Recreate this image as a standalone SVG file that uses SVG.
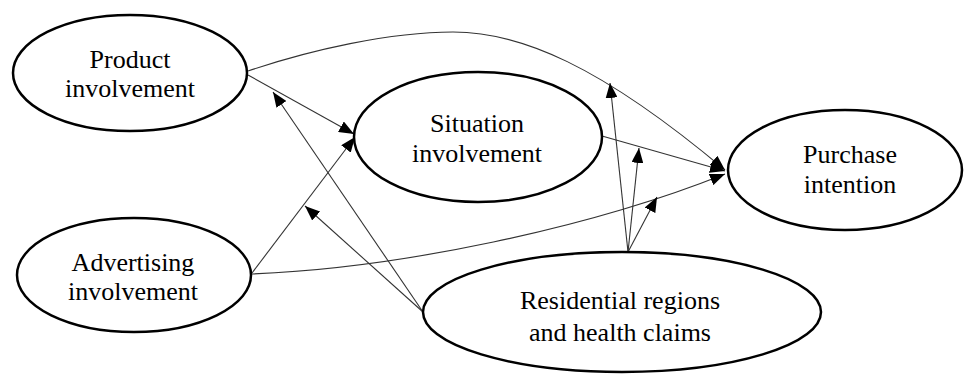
<svg xmlns="http://www.w3.org/2000/svg" width="964" height="374" viewBox="0 0 964 374">
<style>
.node ellipse{fill:#fff;stroke:#000;stroke-width:2.5}
.node text{font-family:"Liberation Serif","Times New Roman",serif;font-size:26px;fill:#000;text-anchor:middle}
.edge{fill:none;stroke:#333;stroke-width:1.1}
</style>
<defs>
<marker id="arr" markerUnits="userSpaceOnUse" markerWidth="15" markerHeight="12" refX="15" refY="6" orient="auto">
<path d="M0,0 L15,6 L0,12 z" fill="#000"/>
</marker>
</defs>
<g id="connectors">
<path class="edge" d="M248,71 C310,50 390,32 453,32 C520,32 600,65 725,170" marker-end="url(#arr)"/>
<path class="edge" d="M248,75 L354,134" marker-end="url(#arr)"/>
<path class="edge" d="M252,273 L355,137" marker-end="url(#arr)"/>
<path class="edge" d="M252,274 C400,268 590,228 725,174" marker-end="url(#arr)"/>
<path class="edge" d="M602,136 L725,171" marker-end="url(#arr)"/>
<path class="edge" d="M423,312 L273,92" marker-end="url(#arr)"/>
<path class="edge" d="M423,312 L305,206" marker-end="url(#arr)"/>
<path class="edge" d="M628,252 L610,83" marker-end="url(#arr)"/>
<path class="edge" d="M628,252 L639,148" marker-end="url(#arr)"/>
<path class="edge" d="M628,252 L657,197" marker-end="url(#arr)"/>
</g>
<g id="product" class="node">
<ellipse cx="130" cy="73" rx="117" ry="58"/>
<text x="130" y="68">Product</text>
<text x="130" y="97">involvement</text>
</g>
<g id="situation" class="node">
<ellipse cx="478" cy="137" rx="124" ry="65"/>
<text x="477" y="132">Situation</text>
<text x="477" y="162">involvement</text>
</g>
<g id="purchase" class="node">
<ellipse cx="845" cy="170" rx="117" ry="60"/>
<text x="850" y="163">Purchase</text>
<text x="850" y="193">intention</text>
</g>
<g id="advertising" class="node">
<ellipse cx="134" cy="275" rx="117" ry="57"/>
<text x="133" y="271">Advertising</text>
<text x="133" y="300">involvement</text>
</g>
<g id="residential" class="node">
<ellipse cx="622" cy="312" rx="199" ry="60"/>
<text x="620" y="309">Residential regions</text>
<text x="620" y="341">and health claims</text>
</g>
</svg>
